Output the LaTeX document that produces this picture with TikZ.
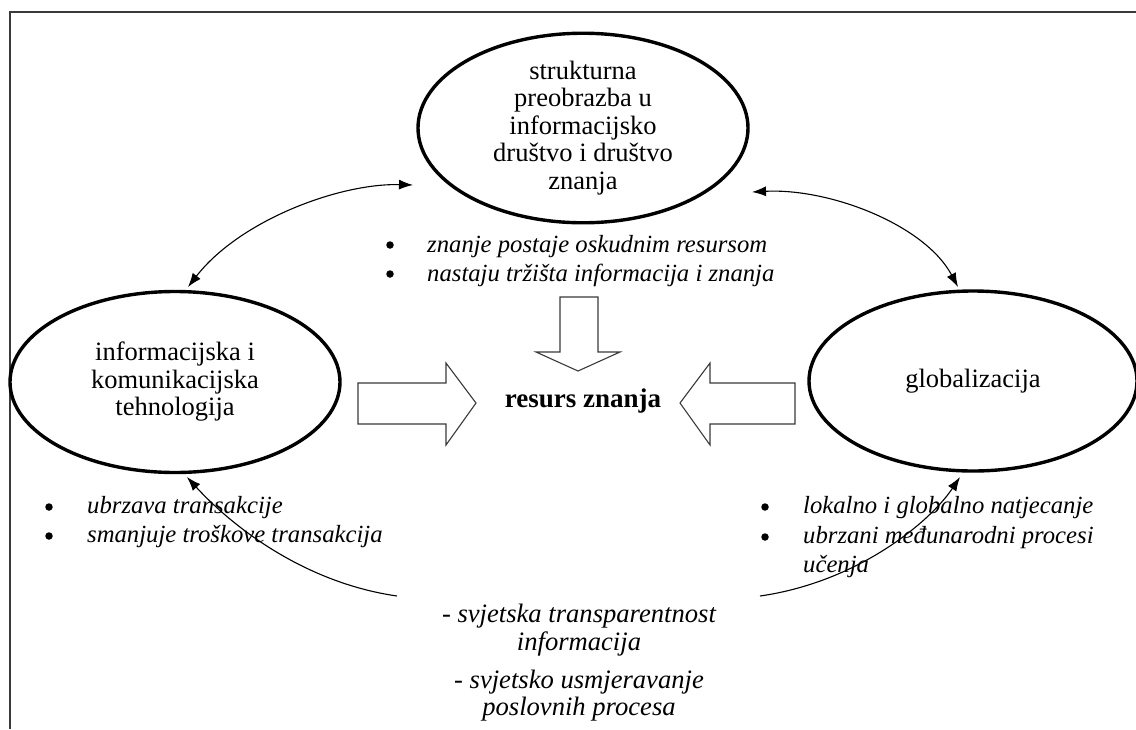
\documentclass[tikz,border=0pt]{standalone}
\usepackage{fontspec}
\setmainfont{Liberation Serif}
\usetikzlibrary{arrows.meta,shapes.geometric}
\definecolor{framegray}{HTML}{3A3A3A}
\begin{document}
\begin{tikzpicture}[x=1pt,y=-1pt,
  bubble/.style={draw, ellipse, line width=3.4pt, minimum width=330pt, minimum height=181pt, inner sep=0pt, align=center, font=\fontsize{26.5}{27.5}\selectfont},
  blockarrow/.style={draw=framegray, line width=1.1pt, fill=white, line join=miter},
  link/.style={line width=1.1pt},
  bul/.style={circle, fill=black, minimum size=7.5pt, inner sep=0pt},
  item/.style={anchor=base west, inner sep=0pt, font=\fontsize{24.7}{28}\selectfont\itshape},
  note/.style={anchor=base, inner sep=0pt, font=\fontsize{26.6}{28}\selectfont\itshape},
  centre/.style={inner sep=0pt, font=\fontsize{27}{30}\selectfont\bfseries}]
\fill[white] (0,0) rectangle (1136,729);
\useasboundingbox (0,0) rectangle (1136,729);
% frame
\draw[framegray, line width=1.5pt] (10,729) -- (10,12) -- (1136,12);

% ellipses
\node[bubble] (top) at (583,128) {strukturna\\preobrazba u\\informacijsko\\društvo i društvo\\znanja};
\node[bubble] (ict) at (175,382) {informacijska i\\komunikacijska\\tehnologija};
\node[bubble, minimum width=328pt, minimum height=180pt] (glob) at (973,381) {globalizacija};

% centre
\node[centre] (res) at (583,401) {resurs znanja};

% block arrows
\draw[blockarrow] (560,297) -- (598,297) -- (598,352) -- (620,352) -- (578,371) -- (536,352) -- (560,352) -- cycle;
\draw[blockarrow] (358,383) -- (446,383) -- (446,363) -- (476,403) -- (446,445) -- (446,424) -- (358,424) -- cycle;
\draw[blockarrow] (795,383) -- (710,383) -- (710,363) -- (680,403) -- (710,445) -- (710,424) -- (795,424) -- cycle;

% connector end points
\coordinate (aT) at (413,185);
\coordinate (aL) at (188,287);
\coordinate (bT) at (752,192);
\coordinate (bR) at (958,287);
\coordinate (cS) at (397,596);
\coordinate (cL) at (187,477);
\coordinate (dS) at (760,596);
\coordinate (dR) at (960,477);

\draw[link, {Latex[length=14pt,width=10pt]}-{Latex[length=14pt,width=10pt]}] (aL) .. controls (240,220) and (340,183) .. (aT);
\draw[link, {Latex[length=14pt,width=10pt]}-{Latex[length=14pt,width=10pt]}] (bT) .. controls (830,188) and (925,225) .. (bR);
\draw[link, -{Latex[length=14pt,width=10pt]}] (cS) .. controls (300,582) and (228,522) .. (cL);
\draw[link, -{Latex[length=14pt,width=10pt]}] (dS) .. controls (858,582) and (930,522) .. (dR);

% top list
\node[bul] (b1) at (390,245) {};
\node[item] (t1) at (427,252) {znanje postaje oskudnim resursom};
\node[bul] (b2) at (390,274) {};
\node[item] (t2) at (427,281) {nastaju tržišta informacija i znanja};

% left list
\node[bul] (b3) at (49,507) {};
\node[item] (t3) at (87,513) {ubrzava transakcije};
\node[bul] (b4) at (49,536) {};
\node[item] (t4) at (87,542) {smanjuje troškove transakcija};

% right list
\node[bul] (b5) at (765,507) {};
\node[item] (t5) at (803,513) {lokalno i globalno natjecanje};
\node[bul] (b6) at (765,537) {};
\node[item] (t6) at (803,543) {ubrzani međunarodni procesi};
\node[item] (t7) at (803,572) {učenja};

% bottom notes
\node[note] (n1) at (579,622) {- svjetska transparentnost};
\node[note] (n2) at (579,650) {informacija};
\node[note] (n3) at (579,688) {- svjetsko usmjeravanje};
\node[note] (n4) at (579,715) {poslovnih procesa};
\end{tikzpicture}
\end{document}
